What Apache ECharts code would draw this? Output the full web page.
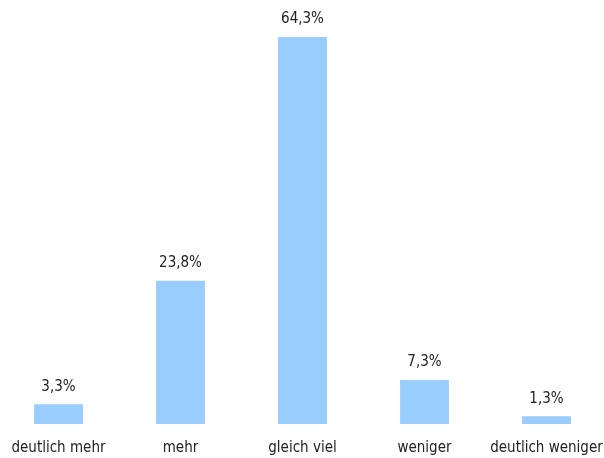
<!DOCTYPE html>
<html><head><meta charset="utf-8">
<script src="https://cdn.jsdelivr.net/npm/echarts@6/dist/echarts.min.js"></script>
<style>html,body{margin:0;padding:0;background:#fff}#c{width:604px;height:458px}</style>
</head><body><div id="c"></div>
<script>
const categories = ['deutlich mehr', 'mehr', 'gleich viel', 'weniger', 'deutlich weniger'];
const values = [3.3, 23.8, 64.3, 7.3, 1.3];
const FONT = '"DejaVu Sans Condensed", "Liberation Sans", sans-serif';
const chart = echarts.init(document.getElementById('c'));
chart.setOption({
  animation: false,
  grid: { left: -2.5, right: -3.5, top: 37, bottom: 34, containLabel: false, outerBoundsMode: 'none' },
  xAxis: {
    type: 'category', data: categories,
    axisLine: { show: false }, axisTick: { show: false },
    axisLabel: { color: '#222', fontSize: 15, fontFamily: FONT, margin: 17, interval: 0 }
  },
  yAxis: { type: 'value', min: 0, max: 64.3, show: false, splitLine: { show: false } },
  series: [{
    type: 'bar', data: values, barWidth: '40%',
    itemStyle: { color: '#99ccff' },
    label: { show: true, position: 'top', distance: 10, color: '#222', fontSize: 15, fontFamily: FONT,
      formatter: p => p.value.toFixed(1).replace('.', ',') + '%' }
  }]
});
</script></body></html>
